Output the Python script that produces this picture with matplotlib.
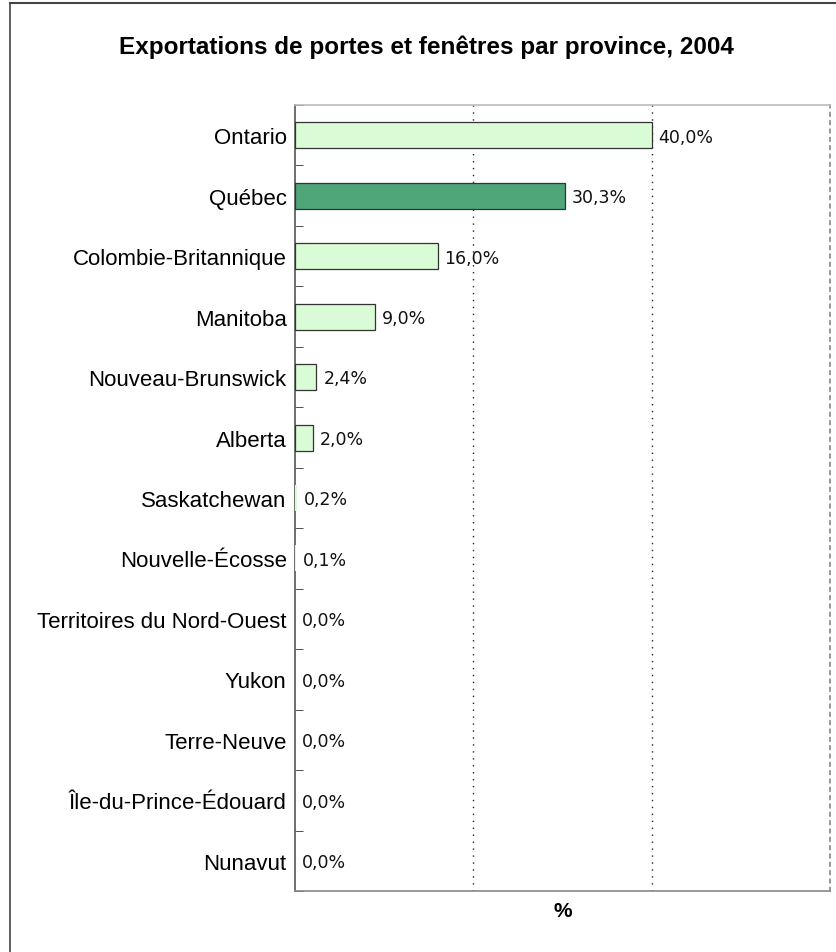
import matplotlib
matplotlib.use("Agg")
import matplotlib.pyplot as plt
from matplotlib.lines import Line2D
import numpy as np

provinces = ["Ontario", "Québec", "Colombie-Britannique", "Manitoba",
             "Nouveau-Brunswick", "Alberta", "Saskatchewan", "Nouvelle-Écosse",
             "Territoires du Nord-Ouest", "Yukon", "Terre-Neuve",
             "Île-du-Prince-Édouard", "Nunavut"]
shares = [40.0, 30.3, 16.0, 9.0, 2.4, 2.0, 0.2, 0.1, 0.0, 0.0, 0.0, 0.0, 0.0]
labels = ["40,0%", "30,3%", "16,0%", "9,0%", "2,4%", "2,0%", "0,2%", "0,1%",
          "0,0%", "0,0%", "0,0%", "0,0%", "0,0%"]
highlight = "Québec"

plt.rcParams['font.family'] = ['Liberation Sans', 'DejaVu Sans']

fig = plt.figure(figsize=(8.37, 9.53), dpi=100)
ax = fig.add_axes([295/837, 61/953, 535/837, 786/953])

y = np.arange(len(provinces))
colors = ["#4ea679" if p == highlight else "#d9fbd5" for p in provinces]
# very thin bars show no outline in the original
edges = ["#333333" if v >= 1 else "none" for v in shares]
ax.barh(y, shares, height=0.43, color=colors, edgecolor=edges, linewidth=0.9, zorder=3)

for yi, v, lab in zip(y, shares, labels):
    ax.annotate(lab, (v, yi), xytext=(5, -1), textcoords="offset points",
                va="center", ha="left", fontsize=12.5, family="DejaVu Sans",
                color="#111111")

ax.set_xlim(0, 60)
ax.set_ylim(len(provinces) - 0.5, -0.5)
ax.set_xticks([20, 40])
ax.set_xticklabels([])
ax.tick_params(axis="x", length=0)
ax.xaxis.grid(True, linestyle=(0, (1, 4)), color="#222222", linewidth=1.0, zorder=0)

ax.set_yticks(y)
ax.set_yticklabels(provinces, fontsize=16)
ax.tick_params(axis="y", which="major", length=0, pad=6)
ax.set_yticks(np.arange(-0.5, len(provinces), 1), minor=True)
ax.tick_params(axis="y", which="minor", direction="in", length=6, color="#333333")

ax.set_xlabel("%", fontsize=15, fontweight="bold", labelpad=4)

ax.spines["left"].set_color("#555555")
ax.spines["bottom"].set_color("#888888")
ax.spines["top"].set_color("#bbbbbb")
ax.spines["right"].set_color("#888888")
ax.spines["right"].set_linestyle((0, (2, 3)))
for s in ax.spines.values():
    s.set_linewidth(1.2)

fig.text(426/837, 1 - 47/953, "Exportations de portes et fenêtres par province, 2004",
         ha="center", va="center", fontsize=17.5, fontweight="bold")

# outer frame (top and left edges)
fig.add_artist(Line2D([10/837, 835/837], [1 - 4/953, 1 - 4/953], color="#444444", linewidth=1.5))
fig.add_artist(Line2D([10/837, 10/837], [0, 1 - 4/953], color="#444444", linewidth=1.2))

fig.savefig("out.png", dpi=100)
